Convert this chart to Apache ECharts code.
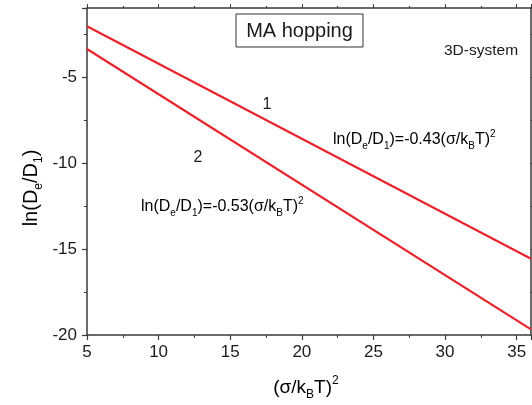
<!DOCTYPE html>
<html><head><meta charset="utf-8">
<script src="https://cdn.jsdelivr.net/npm/echarts@6/dist/echarts.min.js"></script>
<style>html,body{margin:0;padding:0;background:#fff}#c{width:532px;height:405px}</style>
</head><body><div id="c"></div>
<script>
var xValues = [5, 36];
var line1 = [-2.06, -15.57];
var line2 = [-3.38, -19.67];
var xTicks = [5, 10, 15, 20, 25, 30, 35];
var yTicks = [-20, -15, -10, -5];

var FONT = "'Liberation Sans', Arial, sans-serif";
var AX = '#3a3a3a';
var RED = '#e8232b';
var TXT = '#1a1a1a';
var chart = echarts.init(document.getElementById('c'));

function pairs(ys){ return xValues.map(function(x,i){ return [x, ys[i]]; }); }

var richEq = {
  n: {fontSize: 16, fontFamily: FONT, color: TXT, lineHeight: 22, verticalAlign: 'middle'},
  s: {fontSize: 10, fontFamily: FONT, color: TXT, lineHeight: 22, verticalAlign: 'bottom'},
  p: {fontSize: 10, fontFamily: FONT, color: TXT, lineHeight: 22, verticalAlign: 'top'}
};
function eq(coef){
  return '{n|ln(D}{s|e}{n|/D}{s|1}{n|)=' + coef + '(σ/k}{s|B}{n|T)}{p|2}';
}

var option = {
  animation: false,
  grid: {left: 87, right: 1, top: 8, bottom: 70, containLabel: false, outerBoundsMode: 'none'},
  xAxis: [{
    type: 'value', min: 5, max: 36, interval: 5,
    axisLine: {show: true, lineStyle: {color: AX, width: 1.5}},
    axisTick: {show: true, length: 5, lineStyle: {color: AX, width: 1.2}},
    minorTick: {show: true, splitNumber: 2, length: 3, lineStyle: {color: AX, width: 1}},
    splitLine: {show: false},
    axisLabel: {fontFamily: FONT, fontSize: 17, color: TXT, margin: 9,
      formatter: function(v){ return xTicks.indexOf(v) >= 0 ? String(v) : ''; }}
  }, {
    type: 'value', min: 5, max: 36, interval: 5, position: 'top',
    axisLine: {show: true, lineStyle: {color: AX, width: 1.5}},
    axisTick: {show: true, length: 4, lineStyle: {color: AX}},
    minorTick: {show: true, splitNumber: 2, length: 2, lineStyle: {color: AX}},
    axisLabel: {show: false}, splitLine: {show: false}
  }],
  yAxis: [{
    type: 'value', min: -20, max: -1, interval: 5,
    axisLine: {show: true, lineStyle: {color: AX, width: 1.5}},
    axisTick: {show: true, length: 5, lineStyle: {color: AX, width: 1.2}},
    minorTick: {show: true, splitNumber: 2, length: 3, lineStyle: {color: AX, width: 1}},
    splitLine: {show: false},
    axisLabel: {fontFamily: FONT, fontSize: 17, color: TXT, margin: 10,
      formatter: function(v){ return yTicks.indexOf(v) >= 0 ? String(v) : ''; }}
  }, {
    type: 'value', min: -20, max: -1, interval: 5, position: 'right',
    axisLine: {show: true, lineStyle: {color: AX, width: 1.5}},
    axisTick: {show: true, length: 4, lineStyle: {color: AX}},
    minorTick: {show: true, splitNumber: 2, length: 2, lineStyle: {color: AX}},
    axisLabel: {show: false}, splitLine: {show: false}
  }],
  series: [
    {type: 'line', name: '1', data: pairs(line1), showSymbol: false, lineStyle: {color: RED, width: 2.2}, silent: true},
    {type: 'line', name: '2', data: pairs(line2), showSymbol: false, lineStyle: {color: RED, width: 2.2}, silent: true}
  ],
  graphic: [
    {type: 'text', x: 31, y: 188, rotation: Math.PI / 2,
      style: {text: '{n|ln(D}{s|e}{n|/D}{s|1}{n|)}', align: 'center', verticalAlign: 'middle',
        rich: {
          n: {fontSize: 20, fontFamily: FONT, color: TXT, lineHeight: 28},
          s: {fontSize: 12, fontFamily: FONT, color: TXT, lineHeight: 28, verticalAlign: 'bottom'}
        }}},
    {type: 'text', x: 306, y: 388,
      style: {text: '{n|(σ/k}{s|B}{n|T)}{p|2}', align: 'center', verticalAlign: 'middle',
        rich: {
          n: {fontSize: 19, fontFamily: FONT, color: TXT, lineHeight: 26},
          s: {fontSize: 12, fontFamily: FONT, color: TXT, lineHeight: 26, verticalAlign: 'bottom'},
          p: {fontSize: 12, fontFamily: FONT, color: TXT, lineHeight: 26, verticalAlign: 'top'}
        }}},
    {type: 'rect', shape: {x: 236, y: 14, width: 127, height: 33}, style: {fill: '#fff', stroke: '#333', lineWidth: 1}},
    {type: 'text', x: 299.5, y: 31, style: {text: 'MA hopping', font: '20px ' + FONT, fill: TXT, textAlign: 'center', textVerticalAlign: 'middle'}},
    {type: 'text', x: 444, y: 51, style: {text: '3D-system', font: '15.5px ' + FONT, fill: TXT, textAlign: 'left', textVerticalAlign: 'middle'}},
    {type: 'text', x: 267, y: 105, style: {text: '1', font: '16px ' + FONT, fill: TXT, textAlign: 'center', textVerticalAlign: 'middle'}},
    {type: 'text', x: 198, y: 158, style: {text: '2', font: '16px ' + FONT, fill: TXT, textAlign: 'center', textVerticalAlign: 'middle'}},
    {type: 'text', x: 333, y: 129, style: {text: eq('-0.43'), rich: richEq}},
    {type: 'text', x: 141, y: 196, style: {text: eq('-0.53'), rich: richEq}}
  ]
};
chart.setOption(option);
</script></body></html>
